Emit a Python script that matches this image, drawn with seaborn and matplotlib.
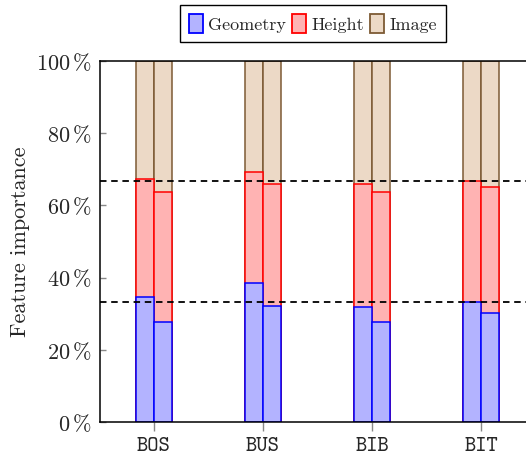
import matplotlib
matplotlib.use("Agg")
import matplotlib.pyplot as plt
import matplotlib.patches as mpatches
import seaborn as sns
import pandas as pd

datasets = ["BOS", "BUS", "BIB", "BIT"]
geometry_1 = [34.5, 38.6, 31.9, 33.3]
height_1 = [32.7, 30.7, 34.0, 33.4]
geometry_2 = [27.6, 32.0, 27.6, 30.1]
height_2 = [36.0, 34.0, 36.2, 35.1]
yticks = [0, 20, 40, 60, 80, 100]
series = ["Geometry", "Height", "Image"]

rows = []
for i, d in enumerate(datasets):
    for v, g, h in (("1", geometry_1[i], height_1[i]), ("2", geometry_2[i], height_2[i])):
        rows.append(dict(dataset=d, variant=v, geometry=g, height=h, image=100 - g - h))
df = pd.DataFrame(rows)
df["cum_geometry"] = df["geometry"]
df["cum_height"] = df["geometry"] + df["height"]
df["cum_image"] = df["cum_height"] + df["image"]

sns.set_theme(style="white")
plt.rcParams["mathtext.fontset"] = "cm"
plt.rcParams["font.family"] = ["cmr10", "DejaVu Serif"]
plt.rcParams["axes.unicode_minus"] = False

fig = plt.figure(figsize=(5.26, 4.57), dpi=100)
ax = fig.add_axes([100 / 526, 1 - 422 / 457, 426 / 526, (422 - 61) / 457])

fills = {"Geometry": "#b3b3ff", "Height": "#ffb3b3", "Image": "#ecd9c6"}
edges = {"Geometry": "#0000ff", "Height": "#ff0000", "Image": "#7d5a34"}

for name, col in (("Image", "cum_image"), ("Height", "cum_height"), ("Geometry", "cum_geometry")):
    sns.barplot(data=df, x="dataset", y=col, hue="variant", order=datasets,
                hue_order=["1", "2"], palette=[fills[name], fills[name]],
                edgecolor=edges[name], linewidth=1.1, width=0.33, dodge=True,
                saturation=1, legend=False, ax=ax, errorbar=None)

for yv in (100 / 3, 200 / 3):
    ax.axhline(yv, color="black", lw=1.3, linestyle=(0, (3.6, 2.6)), zorder=5)

ax.set_xlim(-0.495, 3.413)
ax.set_ylim(0, 100)
ax.set_yticks(yticks)
ax.set_yticklabels([rf"${t}\,\%$" for t in yticks], fontsize=16)
ax.set_xticks(range(len(datasets)))
ax.set_xticklabels(datasets, fontsize=15.5, family="cmtt10")
ax.set_xlabel("")
ax.set_ylabel("Feature importance", fontsize=16, labelpad=4)
ax.tick_params(axis="y", direction="in", length=4.5, width=1, color="#888888", pad=6, left=True)
ax.tick_params(axis="x", direction="out", length=6.5, width=1, color="#888888", pad=4, bottom=True)
for s in ("left", "bottom", "top"):
    ax.spines[s].set_color("black")
    ax.spines[s].set_linewidth(1.1)
ax.spines["right"].set_visible(False)

handles = [mpatches.Patch(facecolor=fills[n], edgecolor=edges[n], linewidth=1.3, label=n) for n in series]
leg = ax.legend(handles=handles, loc="lower center", bbox_to_anchor=((313 - 100) / 426, 1.052), ncol=3,
                frameon=True, fancybox=False, edgecolor="black", framealpha=1, fontsize=13,
                handlelength=0.75, handleheight=1.25, handletextpad=0.3, columnspacing=0.35,
                borderpad=0.5, borderaxespad=0)
leg.get_frame().set_linewidth(1.0)

fig.savefig("out.png", dpi=100)
